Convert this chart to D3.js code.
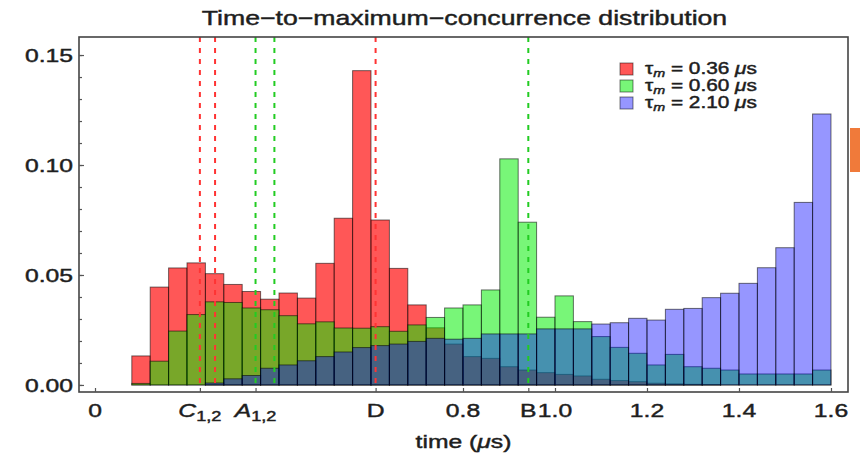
<!DOCTYPE html>
<html>
<head>
<meta charset="utf-8">
<script src="https://cdn.jsdelivr.net/npm/d3@7"></script>
<style>
  body { margin: 0; background: #fff; }
  text { font-family: "Liberation Sans", Arial, sans-serif; fill: #1e1e1e; stroke: #1e1e1e; stroke-width: 0.45px; }
</style>
</head>
<body>
<svg id="chart" width="860" height="456"></svg>
<script>
// **** Data
const binStart = 0.08;
const binWidth = 0.04;

const redVals = [0.0132, 0.0445, 0.0532, 0.0555, 0.0506, 0.0457, 0.0425, 0.0390, 0.0418, 0.0395,
  0.0553, 0.0758, 0.1429, 0.0750, 0.0530, 0.0364, 0.0260, 0.0186, 0.0129, 0.0121,
  0.0083, 0.0068, 0.0056, 0.0048, 0.0041, 0.0026, 0.0020, 0.0015, 0.0008, 0.0005,
  0.0003, 0.0002, 0, 0, 0, 0, 0, 0];
const greenVals = [0.0007, 0.0108, 0.0245, 0.0320, 0.0378, 0.0375, 0.0350, 0.0342, 0.0315, 0.0278,
  0.0287, 0.0259, 0.0258, 0.0265, 0.0244, 0.0273, 0.0307, 0.0350, 0.0364, 0.0432,
  0.1028, 0.0740, 0.0308, 0.0405, 0.0288, 0.0220, 0.0171, 0.0144, 0.0091, 0.0139,
  0.0083, 0.0076, 0.0068, 0.0050, 0.0050, 0.0050, 0.0050, 0.0068];
const blueVals = [0, 0, 0, 0, 0.0009, 0.0028, 0.0043, 0.0076, 0.0091, 0.0110,
  0.0129, 0.0150, 0.0170, 0.0179, 0.0186, 0.0198, 0.0212, 0.0208, 0.0212, 0.0232,
  0.0232, 0.0232, 0.0255, 0.0255, 0.0255, 0.0277, 0.0283, 0.0303, 0.0295, 0.0344,
  0.0348, 0.0397, 0.0417, 0.0462, 0.0533, 0.0624, 0.0830, 0.1232];

const tauLabels = ["0.36", "0.60", "2.10"];
const seriesColors = ["#ff0000", "#00ee00", "#0000ff"];
const seriesOpacity = [0.66, 0.53, 0.41];

// dashed marker times
const redMarks = [0.228, 0.261, 0.610];
const greenMarks = [0.349, 0.390, 0.942];

// x axis ticks
const xTickValues = [0, 0.8, 1.0, 1.2, 1.4, 1.6];
const xTickLabels = ["0", "0.8", "1.0", "1.2", "1.4", "1.6"];
const namedTickValues = [0.228, 0.349, 0.610, 0.942];
const namedTickLetters = ["C", "A", "D", "B"];
const namedTickSubs = ["1,2", "1,2", "", ""];
const namedTickItalic = [true, true, false, false];

const yTickValues = [0, 0.05, 0.10, 0.15];
const yMinorValues = d3.range(0, 0.16, 0.01);

// **** Setup
const svg = d3.select("#chart");
const plotLeft = 79, plotRight = 848, plotTop = 37, plotBottom = 392;
const sx = 1.3; // text in the picture is stretched sideways

const x = d3.scaleLinear().domain([-0.0348, 1.637]).range([plotLeft, plotRight]);
const y = d3.scaleLinear().domain([-0.0032, 0.1582]).range([plotBottom, plotTop]);

// stretched text helper
function wideText(g, px, py, size, anchor) {
  return g.append("text")
    .attr("transform", `translate(${px},${py}) scale(${sx},1)`)
    .attr("font-size", size)
    .attr("text-anchor", anchor || "middle");
}

// **** Bars (drawn in order: red, green, blue)
const allSeries = [redVals, greenVals, blueVals];
allSeries.forEach((vals, s) => {
  svg.append("g")
    .selectAll("rect")
    .data(vals.map((v, i) => ({ i, v })).filter(d => d.v > 0))
    .join("rect")
    .attr("x", d => x(binStart + d.i * binWidth))
    .attr("width", d => x(binStart + (d.i + 1) * binWidth) - x(binStart + d.i * binWidth))
    .attr("y", d => y(d.v))
    .attr("height", d => y(0) - y(d.v))
    .attr("fill", seriesColors[s])
    .attr("fill-opacity", seriesOpacity[s])
    .attr("stroke", "#000")
    .attr("stroke-opacity", 0.55)
    .attr("stroke-width", 1);
});

// **** Dashed markers
const markG = svg.append("g");
[[redMarks, "#ff3333"], [greenMarks, "#22cc22"]].forEach(([marks, col]) => {
  markG.selectAll(null)
    .data(marks)
    .join("line")
    .attr("x1", d => x(d)).attr("x2", d => x(d))
    .attr("y1", plotTop).attr("y2", y(0))
    .attr("stroke", col)
    .attr("stroke-width", 2)
    .attr("stroke-dasharray", "5,6");
});

// **** Frame
svg.append("rect")
  .attr("x", plotLeft).attr("y", plotTop)
  .attr("width", plotRight - plotLeft).attr("height", plotBottom - plotTop)
  .attr("fill", "none")
  .attr("stroke", "#444")
  .attr("stroke-width", 1.6);

// **** Axes (ticks point inward)
const yAxisG = svg.append("g").attr("transform", `translate(${plotLeft},0)`);
yAxisG.call(d3.axisLeft(y).tickValues(yMinorValues).tickSize(-3).tickFormat(""));
yAxisG.append("g").call(d3.axisLeft(y).tickValues(yTickValues).tickSize(-5).tickFormat(""));
yAxisG.selectAll(".domain").remove();
yAxisG.selectAll("line").attr("stroke", "#555").attr("stroke-width", 1.2);

const xAxisG = svg.append("g").attr("transform", `translate(0,${plotBottom})`);
xAxisG.call(d3.axisBottom(x).tickValues(xTickValues.concat(namedTickValues)).tickSize(-4).tickFormat(""));
xAxisG.selectAll(".domain").remove();
xAxisG.selectAll("line").attr("stroke", "#555").attr("stroke-width", 1.2);

// **** Tick labels
yTickValues.forEach(v => {
  wideText(svg, plotLeft - 6, y(v) + 7, 19, "end").text(d3.format(".2f")(v));
});
xTickValues.forEach((v, i) => {
  wideText(svg, x(v), 417, 19).text(xTickLabels[i]);
});
namedTickValues.forEach((v, i) => {
  const t = wideText(svg, x(v), 417, 19);
  t.append("tspan").attr("font-style", namedTickItalic[i] ? "italic" : "normal").text(namedTickLetters[i]);
  if (namedTickSubs[i]) t.append("tspan").attr("font-size", 14).attr("dy", 4).text(namedTickSubs[i]);
});

// **** Axis title
const xt = wideText(svg, (plotLeft + plotRight) / 2, 448, 19);
xt.append("tspan").text("time (");
xt.append("tspan").attr("font-style", "italic").text("μ");
xt.append("tspan").text("s)");

// **** Title
wideText(svg, (plotLeft + plotRight) / 2 + 1, 25, 20.5).text("Time\u2212to\u2212maximum\u2212concurrence distribution");

// **** Legend
const legend = svg.append("g");
tauLabels.forEach((lab, i) => {
  const ly = 69 + i * 17;
  legend.append("rect")
    .attr("x", 620).attr("y", ly - 6)
    .attr("width", 13).attr("height", 12)
    .attr("fill", seriesColors[i])
    .attr("fill-opacity", seriesOpacity[i])
    .attr("stroke", "#000").attr("stroke-opacity", 0.5);
  const t = wideText(legend, 645, ly + 5, 16, "start");
  t.append("tspan").text("τ");
  t.append("tspan").attr("font-size", 11).attr("font-style", "italic").attr("dy", 3).text("m");
  t.append("tspan").attr("dy", -3).text(" = " + lab + " ");
  t.append("tspan").attr("font-style", "italic").text("μ");
  t.append("tspan").text("s");
});

// **** Screen edge artifact
svg.append("rect").attr("x", 850).attr("y", 128).attr("width", 10).attr("height", 44).attr("fill", "#f07a3a");
</script>
</body>
</html>
